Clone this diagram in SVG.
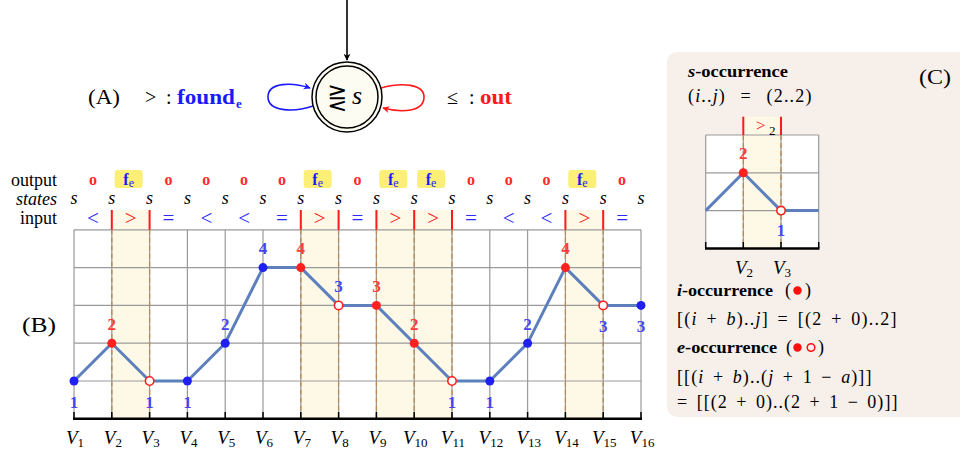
<svg xmlns="http://www.w3.org/2000/svg" width="960" height="454" viewBox="0 0 960 454" font-family="'Liberation Serif', 'DejaVu Serif', serif">
<style>
text{font-family:'Liberation Serif','DejaVu Serif',serif}
.lbl{font-size:18px;fill:#000}
.it{font-style:italic}
.bold{font-weight:bold}
.num{font-size:17px;font-weight:bold;text-anchor:middle}
.nr{fill:#ff3b3b}
.nb{fill:#4646f0}
.sym{font-size:21px;text-anchor:middle}
.bl{fill:#2a2aff}
.rd{fill:#ff1a1a}
.st{font-size:18px;font-style:italic;text-anchor:middle}
.o{font-size:16px;font-weight:bold;fill:#ff2a2a;text-anchor:middle}
.grid{stroke:#9a9a9a;stroke-width:1.2;fill:none}
.dash{stroke:#b98a55;stroke-width:1.3;stroke-dasharray:5 3;fill:none}
.redbar{stroke:#ff1a1a;stroke-width:2}
.hl{fill:#fdf9e6}
.curve{stroke:#5d80bd;stroke-width:3;fill:none;stroke-linejoin:round}
.fbox{fill:#fbef78}
.vl{font-size:19px;font-style:italic}
.sub{font-size:13px;font-style:normal}
.ct{font-size:18px;letter-spacing:0.6px}
.ch{font-size:17.5px;font-weight:bold}
</style>
<defs>
<marker id="ak" viewBox="0 0 10 10" refX="9" refY="5" markerWidth="7" markerHeight="7" orient="auto" markerUnits="userSpaceOnUse">
<path d="M0,0 L10,5 L0,10 L3,5 z" fill="#000"/>
</marker>
<marker id="ab" viewBox="0 0 10 10" refX="9" refY="5" markerWidth="7" markerHeight="7" orient="auto" markerUnits="userSpaceOnUse">
<path d="M0,0 L10,5 L0,10 L3,5 z" fill="#1a1aff"/>
</marker>
<marker id="ar" viewBox="0 0 10 10" refX="9" refY="5" markerWidth="7" markerHeight="7" orient="auto" markerUnits="userSpaceOnUse">
<path d="M0,0 L10,5 L0,10 L3,5 z" fill="#ff1a1a"/>
</marker>
</defs>
<rect width="960" height="454" fill="#fff"/>

<!-- (A) automaton -->
<g id="automaton-labels">
<text x="88" y="104" font-size="20" textLength="32" lengthAdjust="spacingAndGlyphs">(A)</text>
<text x="145" y="104" font-size="20">&gt;</text>
<text x="166" y="104" font-size="20">:</text>
<text x="177" y="104" font-size="20" class="bold" fill="#1a1aff" textLength="58" lengthAdjust="spacingAndGlyphs">found</text>
<text x="236" y="108" font-size="13" class="bold" fill="#1a1aff">e</text>
<text x="447" y="104" font-size="20">≤</text>
<text x="469" y="104" font-size="20">:</text>
<text x="480" y="104" font-size="20" class="bold" fill="#ff1a1a" textLength="32" lengthAdjust="spacingAndGlyphs">out</text>
</g>
<g id="connectors">
<line x1="347" y1="0" x2="347" y2="60" stroke="#000" stroke-width="1.6" marker-end="url(#ak)"/>
<path d="M313,106 C292,113 268,111 268,97 C268,82 292,82 310,88" stroke="#1a1aff" stroke-width="1.6" fill="none" marker-end="url(#ab)"/>
<path d="M381,88 C402,82 424,84 424,97 C424,112 402,113 383,108" stroke="#ff1a1a" stroke-width="1.6" fill="none" marker-end="url(#ar)"/>
</g>
<g id="state-s">
<circle cx="347" cy="97" r="35" fill="#fdfcf2" stroke="#000" stroke-width="1.5"/>
<circle cx="347" cy="97" r="31" fill="none" stroke="#000" stroke-width="1.5"/>
<text x="337" y="106" font-size="24" text-anchor="middle" style="font-family:'DejaVu Sans',sans-serif">⋛</text>
<text x="357" y="104" font-size="26" class="it" text-anchor="middle">s</text>
</g>

<!-- (B) -->
<g id="rows">
<text x="57" y="186" class="lbl" text-anchor="end">output</text>
<text x="57" y="205" class="lbl it" text-anchor="end">states</text>
<text x="57" y="224" class="lbl" text-anchor="end">input</text>
<text x="22" y="332" font-size="20" textLength="34" lengthAdjust="spacingAndGlyphs">(B)</text>
</g>

<g id="highlights">
<rect class="hl" x="111.8" y="210" width="37.8" height="208.8"/>
<rect class="hl" x="300.8" y="210" width="37.8" height="208.8"/>
<rect class="hl" x="376.4" y="210" width="75.6" height="208.8"/>
<rect class="hl" x="565.4" y="210" width="37.8" height="208.8"/>
</g>

<g id="grid">
<path class="grid" d="M74,229.8H641M74,267.6H641M74,305.4H641M74,343.2H641M74,381H641"/>
<path class="grid" d="M74,229.8V418.8M111.8,229.8V418.8M149.6,229.8V418.8M187.4,229.8V418.8M225.2,229.8V418.8M263,229.8V418.8M300.8,229.8V418.8M338.6,229.8V418.8M376.4,229.8V418.8M414.2,229.8V418.8M452,229.8V418.8M489.8,229.8V418.8M527.6,229.8V418.8M565.4,229.8V418.8M603.2,229.8V418.8M641,229.8V418.8"/>
<path class="dash" d="M111.8,229.8V418.8M149.6,229.8V418.8M300.8,229.8V418.8M338.6,229.8V418.8M376.4,229.8V418.8M414.2,229.8V418.8M452,229.8V418.8M565.4,229.8V418.8M603.2,229.8V418.8"/>
<path class="redbar" d="M111.8,210V229.8M149.6,210V229.8M300.8,210V229.8M338.6,210V229.8M376.4,210V229.8M414.2,210V229.8M452,210V229.8M565.4,210V229.8M603.2,210V229.8"/>
<line x1="73" y1="418.8" x2="642" y2="418.8" stroke="#000" stroke-width="2.5"/>
<path stroke="#000" stroke-width="1.5" d="M74,412V418M111.8,412V418M149.6,412V418M187.4,412V418M225.2,412V418M263,412V418M300.8,412V418M338.6,412V418M376.4,412V418M414.2,412V418M452,412V418M489.8,412V418M527.6,412V418M565.4,412V418M603.2,412V418M641,412V418"/>
</g>

<g id="output-row">
<text class="o" x="92.9" y="185">o</text>
<rect class="fbox" x="114.7" y="170" width="28" height="18" rx="3"/>
<text x="128.7" y="185" font-size="16" fill="#1a1aff" text-anchor="middle"><tspan font-weight="bold">f</tspan><tspan font-size="12" dy="2">e</tspan></text>
<text class="o" x="168.5" y="185">o</text>
<text class="o" x="206.3" y="185">o</text>
<text class="o" x="244.1" y="185">o</text>
<text class="o" x="281.9" y="185">o</text>
<rect class="fbox" x="303.7" y="170" width="28" height="18" rx="3"/>
<text x="317.7" y="185" font-size="16" fill="#1a1aff" text-anchor="middle"><tspan font-weight="bold">f</tspan><tspan font-size="12" dy="2">e</tspan></text>
<text class="o" x="357.5" y="185">o</text>
<rect class="fbox" x="379.3" y="170" width="28" height="18" rx="3"/>
<text x="393.3" y="185" font-size="16" fill="#1a1aff" text-anchor="middle"><tspan font-weight="bold">f</tspan><tspan font-size="12" dy="2">e</tspan></text>
<rect class="fbox" x="417.1" y="170" width="28" height="18" rx="3"/>
<text x="431.1" y="185" font-size="16" fill="#1a1aff" text-anchor="middle"><tspan font-weight="bold">f</tspan><tspan font-size="12" dy="2">e</tspan></text>
<text class="o" x="470.9" y="185">o</text>
<text class="o" x="508.7" y="185">o</text>
<text class="o" x="546.5" y="185">o</text>
<rect class="fbox" x="568.3" y="170" width="28" height="18" rx="3"/>
<text x="582.3" y="185" font-size="16" fill="#1a1aff" text-anchor="middle"><tspan font-weight="bold">f</tspan><tspan font-size="12" dy="2">e</tspan></text>
<text class="o" x="622.1" y="185">o</text>
</g>

<g id="states-row">
<text class="st" x="74" y="204">s</text>
<text class="st" x="111.8" y="204">s</text>
<text class="st" x="149.6" y="204">s</text>
<text class="st" x="187.4" y="204">s</text>
<text class="st" x="225.2" y="204">s</text>
<text class="st" x="263" y="204">s</text>
<text class="st" x="300.8" y="204">s</text>
<text class="st" x="338.6" y="204">s</text>
<text class="st" x="376.4" y="204">s</text>
<text class="st" x="414.2" y="204">s</text>
<text class="st" x="452" y="204">s</text>
<text class="st" x="489.8" y="204">s</text>
<text class="st" x="527.6" y="204">s</text>
<text class="st" x="565.4" y="204">s</text>
<text class="st" x="603.2" y="204">s</text>
<text class="st" x="641" y="204">s</text>
</g>

<g id="input-row">
<text class="sym bl" x="92.9" y="225">&lt;</text>
<text class="sym rd" x="130.7" y="225">&gt;</text>
<text class="sym bl" x="168.5" y="225">=</text>
<text class="sym bl" x="206.3" y="225">&lt;</text>
<text class="sym bl" x="244.1" y="225">&lt;</text>
<text class="sym bl" x="281.9" y="225">=</text>
<text class="sym rd" x="319.7" y="225">&gt;</text>
<text class="sym bl" x="357.5" y="225">=</text>
<text class="sym rd" x="395.3" y="225">&gt;</text>
<text class="sym rd" x="433.1" y="225">&gt;</text>
<text class="sym bl" x="470.9" y="225">=</text>
<text class="sym bl" x="508.7" y="225">&lt;</text>
<text class="sym bl" x="546.5" y="225">&lt;</text>
<text class="sym rd" x="584.3" y="225">&gt;</text>
<text class="sym bl" x="622.1" y="225">=</text>
</g>

<g id="curve">
<polyline class="curve" points="74,381 111.8,343.2 149.6,381 187.4,381 225.2,343.2 263,267.6 300.8,267.6 338.6,305.4 376.4,305.4 414.2,343.2 452,381 489.8,381 527.6,343.2 565.4,267.6 603.2,305.4 641,305.4"/>
</g>

<g id="points">
<circle cx="74" cy="381" r="4.5" fill="#2020f0"/>
<circle cx="111.8" cy="343.2" r="4.5" fill="#ff2020"/>
<circle cx="149.6" cy="381" r="4.2" fill="#fff" stroke="#ff2020" stroke-width="1.6"/>
<circle cx="187.4" cy="381" r="4.5" fill="#2020f0"/>
<circle cx="225.2" cy="343.2" r="4.5" fill="#2020f0"/>
<circle cx="263" cy="267.6" r="4.5" fill="#2020f0"/>
<circle cx="300.8" cy="267.6" r="4.5" fill="#ff2020"/>
<circle cx="338.6" cy="305.4" r="4.2" fill="#fff" stroke="#ff2020" stroke-width="1.6"/>
<circle cx="376.4" cy="305.4" r="4.5" fill="#ff2020"/>
<circle cx="414.2" cy="343.2" r="4.5" fill="#ff2020"/>
<circle cx="452" cy="381" r="4.2" fill="#fff" stroke="#ff2020" stroke-width="1.6"/>
<circle cx="489.8" cy="381" r="4.5" fill="#2020f0"/>
<circle cx="527.6" cy="343.2" r="4.5" fill="#2020f0"/>
<circle cx="565.4" cy="267.6" r="4.5" fill="#ff2020"/>
<circle cx="603.2" cy="305.4" r="4.2" fill="#fff" stroke="#ff2020" stroke-width="1.6"/>
<circle cx="641" cy="305.4" r="4.5" fill="#2020f0"/>
</g>

<g id="point-labels">
<text class="num nb" x="74" y="408">1</text>
<text class="num nr" x="111.8" y="330">2</text>
<text class="num nb" x="149.6" y="408">1</text>
<text class="num nb" x="187.4" y="408">1</text>
<text class="num nb" x="225.2" y="330">2</text>
<text class="num nb" x="263" y="254">4</text>
<text class="num nr" x="300.8" y="254">4</text>
<text class="num nb" x="338.6" y="292">3</text>
<text class="num nr" x="376.4" y="292">3</text>
<text class="num nr" x="414.2" y="330">2</text>
<text class="num nb" x="452" y="408">1</text>
<text class="num nb" x="489.8" y="408">1</text>
<text class="num nb" x="527.6" y="330">2</text>
<text class="num nr" x="565.4" y="254">4</text>
<text class="num nb" x="603.2" y="332">3</text>
<text class="num nb" x="641" y="332">3</text>
</g>

<g id="v-labels">
<text class="vl" x="66" y="444">V<tspan class="sub" dy="3">1</tspan></text>
<text class="vl" x="103.8" y="444">V<tspan class="sub" dy="3">2</tspan></text>
<text class="vl" x="141.6" y="444">V<tspan class="sub" dy="3">3</tspan></text>
<text class="vl" x="179.4" y="444">V<tspan class="sub" dy="3">4</tspan></text>
<text class="vl" x="217.2" y="444">V<tspan class="sub" dy="3">5</tspan></text>
<text class="vl" x="255" y="444">V<tspan class="sub" dy="3">6</tspan></text>
<text class="vl" x="292.8" y="444">V<tspan class="sub" dy="3">7</tspan></text>
<text class="vl" x="330.6" y="444">V<tspan class="sub" dy="3">8</tspan></text>
<text class="vl" x="368.4" y="444">V<tspan class="sub" dy="3">9</tspan></text>
<text class="vl" x="403" y="444">V<tspan class="sub" dy="3">10</tspan></text>
<text class="vl" x="440.8" y="444">V<tspan class="sub" dy="3">11</tspan></text>
<text class="vl" x="478.6" y="444">V<tspan class="sub" dy="3">12</tspan></text>
<text class="vl" x="516.4" y="444">V<tspan class="sub" dy="3">13</tspan></text>
<text class="vl" x="554.2" y="444">V<tspan class="sub" dy="3">14</tspan></text>
<text class="vl" x="592" y="444">V<tspan class="sub" dy="3">15</tspan></text>
<text class="vl" x="629.8" y="444">V<tspan class="sub" dy="3">16</tspan></text>
</g>

<!-- (C) panel -->
<g id="panel-c">
<rect x="667" y="52" width="310" height="365" rx="10" fill="#f6efea"/>
<text x="688" y="77" class="ch" textLength="100" lengthAdjust="spacingAndGlyphs"><tspan class="it">s</tspan>-occurrence</text>
<text x="919" y="84" font-size="20" textLength="32" lengthAdjust="spacingAndGlyphs">(C)</text>
<text x="688" y="102" class="ct" word-spacing="9" textLength="124" lengthAdjust="spacing">(<tspan class="it">i</tspan>..<tspan class="it">j</tspan>) = (2..2)</text>

<rect x="705.7" y="135" width="113" height="113.4" fill="#fff"/>
<rect class="hl" x="743.3" y="116.7" width="37.7" height="131.7"/>
<path class="grid" d="M705.7,135H818.7M705.7,172.8H818.7M705.7,210.6H818.7M705.7,135V248.4M743.3,135V248.4M781,135V248.4M818.7,135V248.4"/>
<path class="dash" d="M743.3,135V248.4M781,135V248.4"/>
<path class="redbar" d="M743.3,116.7V135M781,116.7V135"/>
<text x="756" y="131" font-size="17" fill="#ff1a1a">&gt;</text>
<text x="769" y="135" font-size="13">2</text>
<line x1="705" y1="248.4" x2="819.5" y2="248.4" stroke="#000" stroke-width="2.5"/>
<path stroke="#000" stroke-width="1.5" d="M705.7,242V248M743.3,242V248M781,242V248M818.7,242V248"/>
<polyline class="curve" points="705.7,210.6 743.3,172.8 781,210.6 818.7,210.6"/>
<circle cx="743.3" cy="172.8" r="4.5" fill="#ff2020"/>
<circle cx="781" cy="210.6" r="4.2" fill="#fff" stroke="#ff2020" stroke-width="1.6"/>
<text class="num nr" x="743.3" y="159">2</text>
<text class="num nb" x="781" y="236">1</text>
<text class="vl" x="735" y="274">V<tspan class="sub" dy="3">2</tspan></text>
<text class="vl" x="773" y="274">V<tspan class="sub" dy="3">3</tspan></text>

<text x="677" y="296" class="ch" textLength="96" lengthAdjust="spacingAndGlyphs"><tspan class="it">i</tspan>-occurrence</text>
<text x="785" y="296" class="ct">(</text>
<circle cx="797.5" cy="290.5" r="4.2" fill="#ff1010"/>
<text x="805" y="296" class="ct">)</text>
<text x="677" y="325" class="ct" word-spacing="3" textLength="220" lengthAdjust="spacing">[(<tspan class="it">i</tspan> + <tspan class="it">b</tspan>)..<tspan class="it">j</tspan>] = [(2 + 0)..2]</text>
<text x="677" y="353" class="ch" textLength="100" lengthAdjust="spacingAndGlyphs"><tspan class="it">e</tspan>-occurrence</text>
<text x="786" y="353" class="ct">(</text>
<circle cx="797.5" cy="347.5" r="4.2" fill="#ff1010"/>
<circle cx="811" cy="347.5" r="3.8" fill="none" stroke="#ff1010" stroke-width="1.5"/>
<text x="818" y="353" class="ct">)</text>
<text x="677" y="383" class="ct" word-spacing="3" textLength="195" lengthAdjust="spacing">[[(<tspan class="it">i</tspan> + <tspan class="it">b</tspan>)..(<tspan class="it">j</tspan> + 1 − <tspan class="it">a</tspan>)]]</text>
<text x="677" y="408" class="ct" word-spacing="3" textLength="221" lengthAdjust="spacing">= [[(2 + 0)..(2 + 1 − 0)]]</text>
</g>
</svg>
